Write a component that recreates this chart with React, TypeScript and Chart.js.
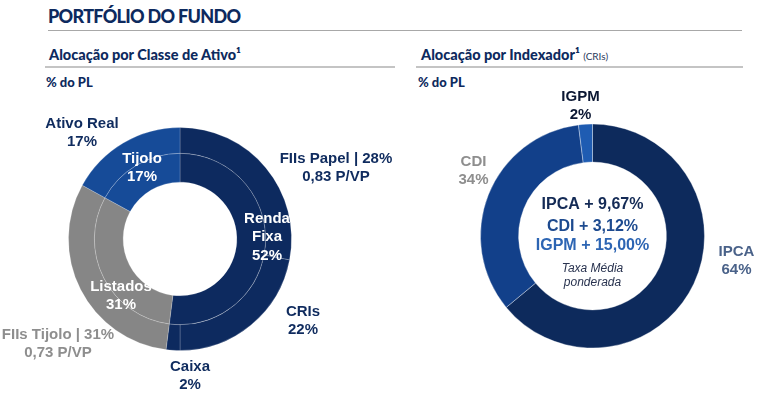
import React, { useEffect, useRef } from 'react';
import { Chart, registerables } from 'chart.js';

Chart.register(...registerables);

// ---------- data ----------
const allocLabels = ['FIIs Papel', 'CRIs', 'Caixa', 'FIIs Tijolo', 'Ativo Real'];
const allocValues = [28, 22, 2, 31, 17];
const allocPvp = ['0,83', '', '', '0,73', ''];
const groupLabels = ['Renda\nFixa', 'Listados', 'Tijolo'];
const groupValues = [52, 31, 17];
const indexLabels = ['IPCA', 'CDI', 'IGPM'];
const indexValues = [64, 34, 2];
const rateLabels = ['IPCA', 'CDI', 'IGPM'];
const rateValues = [9.67, 3.12, 15.0];

// ---------- styles ----------
const NAVY = '#0d2a5f';
const BLUE = '#164b98';
const GRAY = '#868686';
const allocColors = [NAVY, NAVY, NAVY, GRAY, BLUE];
const groupColors = [NAVY, GRAY, BLUE];
const indexColors = ['#0d2a5c', '#12408a', '#1f5cb2'];
const TXT_NAVY = '#0f2b5e';
const TXT_GRAY = '#8e8e8e';
const LBL_FONT = 'bold 15px "Liberation Sans", Arial, sans-serif';

// label placement relative to the doughnut centre
const allocLabelPos = [
  { dx: 156, dy: -71, color: TXT_NAVY },
  { dx: 123, dy: 82, color: TXT_NAVY },
  { dx: 10, dy: 137, color: TXT_NAVY },
  { dx: -122, dy: 105, color: TXT_GRAY },
  { dx: -98, dy: -106, color: TXT_NAVY },
];
const groupLabelPos = [
  { dx: 87, dy: -2 },
  { dx: -59, dy: 57 },
  { dx: -38, dy: -71 },
];
const indexLabelPos = [
  { dx: 144, dy: 25, color: '#4a6289' },
  { dx: -119, dy: -65, color: TXT_GRAY },
  { dx: -12, dy: -130, color: '#0b1733' },
];
const rateColors = ['#132a55', '#1d4a8f', '#2d65b3'];
const rateDy = [-31, -9, 10];

type Lbl = { lines: string[]; dx: number; dy: number; color: string; font: string; lh: number };

const fmt = (v: number) => v.toFixed(2).replace('.', ',');

function textPlugin(labels: Lbl[]) {
  return {
    id: 'txtLabels',
    afterDraw(chart: any) {
      const arc = chart.getDatasetMeta(0).data[0] as any;
      if (!arc) return;
      const cx = arc.x;
      const cy = arc.y;
      const ctx = chart.ctx as CanvasRenderingContext2D;
      ctx.save();
      ctx.textAlign = 'center';
      ctx.textBaseline = 'middle';
      for (const l of labels) {
        ctx.font = l.font;
        ctx.fillStyle = l.color;
        const n = l.lines.length;
        l.lines.forEach((s, i) => {
          ctx.fillText(s, cx + l.dx, cy + l.dy + (i - (n - 1) / 2) * l.lh);
        });
      }
      ctx.restore();
    },
  };
}

function LeftChart() {
  const ref = useRef<HTMLCanvasElement>(null);
  useEffect(() => {
    const labels: Lbl[] = [];
    allocLabels.forEach((name, i) => {
      const p = allocLabelPos[i];
      const lines = allocPvp[i]
        ? [`${name} | ${allocValues[i]}%`, `${allocPvp[i]} P/VP`]
        : [name, `${allocValues[i]}%`];
      labels.push({ lines, dx: p.dx, dy: p.dy, color: p.color, font: LBL_FONT, lh: 18.5 });
    });
    groupLabels.forEach((name, i) => {
      const p = groupLabelPos[i];
      labels.push({
        lines: [...name.split('\n'), `${groupValues[i]}%`],
        dx: p.dx,
        dy: p.dy,
        color: '#ffffff',
        font: LBL_FONT,
        lh: 18.5,
      });
    });
    const chart = new Chart(ref.current!, {
      type: 'doughnut',
      data: {
        labels: allocLabels,
        datasets: [
          {
            data: allocValues,
            backgroundColor: allocColors,
            borderColor: 'rgba(255,255,255,0.2)',
            borderWidth: 1,
            weight: 26,
          } as any,
          {
            data: groupValues,
            backgroundColor: groupColors,
            borderColor: 'rgba(255,255,255,0.2)',
            borderWidth: 1,
            weight: 29,
          } as any,
        ],
      },
      options: {
        responsive: false,
        animation: false,
        cutout: '51%',
        layout: { padding: { left: 68, top: 127, right: 468, bottom: 45 } },
        plugins: { legend: { display: false }, tooltip: { enabled: false } },
      },
      plugins: [textPlugin(labels)],
    });
    return () => chart.destroy();
  }, []);
  return (
    <canvas
      ref={ref}
      width={760}
      height={396}
      style={{ position: 'absolute', left: 0, top: 0, width: 760, height: 396 }}
    />
  );
}

function RightChart() {
  const ref = useRef<HTMLCanvasElement>(null);
  useEffect(() => {
    const labels: Lbl[] = [];
    indexLabels.forEach((name, i) => {
      const p = indexLabelPos[i];
      labels.push({ lines: [name, `${indexValues[i]}%`], dx: p.dx, dy: p.dy, color: p.color, font: LBL_FONT, lh: 18 });
    });
    rateLabels.forEach((name, i) => {
      labels.push({
        lines: [`${name} + ${fmt(rateValues[i])}%`],
        dx: 0,
        dy: rateDy[i],
        color: rateColors[i],
        font: 'bold 16px "Liberation Sans", Arial, sans-serif',
        lh: 18,
      });
    });
    labels.push({
      lines: ['Taxa Média', 'ponderada'],
      dx: 0,
      dy: 39.5,
      color: '#2a3450',
      font: 'italic 12px "Liberation Sans", Arial, sans-serif',
      lh: 13.5,
    });
    const chart = new Chart(ref.current!, {
      type: 'doughnut',
      data: {
        labels: indexLabels,
        datasets: [
          {
            data: indexValues,
            backgroundColor: indexColors,
            borderColor: 'rgba(255,255,255,0.35)',
            borderWidth: 1,
          },
        ],
      },
      options: {
        responsive: false,
        animation: false,
        cutout: '66%',
        layout: { padding: { left: 480, top: 123.5, right: 55, bottom: 47.5 } },
        plugins: { legend: { display: false }, tooltip: { enabled: false } },
      },
      plugins: [textPlugin(labels)],
    });
    return () => chart.destroy();
  }, []);
  return (
    <canvas
      ref={ref}
      width={760}
      height={396}
      style={{ position: 'absolute', left: 0, top: 0, width: 760, height: 396 }}
    />
  );
}

const HEAD_FONT = 'Lato, "Open Sans", sans-serif';

export default function App() {
  const abs = (s: React.CSSProperties): React.CSSProperties => ({ position: 'absolute', whiteSpace: 'nowrap', ...s });
  return (
    <div
      style={{
        position: 'absolute',
        left: 0,
        top: 0,
        width: 760,
        height: 396,
        overflow: 'hidden',
        background: '#ffffff',
        fontFamily: HEAD_FONT,
      }}
    >
      <div
        style={abs({
          left: 48,
          top: 4,
          fontSize: 18,
          lineHeight: '24px',
          fontWeight: 900,
          letterSpacing: '-0.7px',
          color: '#0d2a5e',
        })}
      >
        PORTFÓLIO DO FUNDO
      </div>
      <div style={abs({ left: 48, top: 30, width: 694, height: 1, background: '#a8a8a8' })} />

      <div style={abs({ left: 49, top: 46, fontSize: 14.5, lineHeight: '18px', fontWeight: 900, color: '#0d2a5e' })}>
        Alocação por Classe de Ativo¹
      </div>
      <div style={abs({ left: 45, top: 66, width: 350, height: 2, background: '#c4c4c4' })} />
      <div style={abs({ left: 46, top: 75, fontSize: 13, lineHeight: '15px', fontWeight: 900, color: '#0d2a5e' })}>
        % do PL
      </div>

      <div style={abs({ left: 421, top: 46, fontSize: 14.5, lineHeight: '18px', fontWeight: 900, color: '#0d2a5e' })}>
        Alocação por Indexador¹{' '}
        <span style={{ fontSize: 10, fontWeight: 400, color: '#2a3a5c' }}>(CRIs)</span>
      </div>
      <div style={abs({ left: 416, top: 66, width: 327, height: 2, background: '#c4c4c4' })} />
      <div style={abs({ left: 418, top: 75, fontSize: 13, lineHeight: '15px', fontWeight: 900, color: '#0d2a5e' })}>
        % do PL
      </div>

      <LeftChart />
      <RightChart />
    </div>
  );
}
